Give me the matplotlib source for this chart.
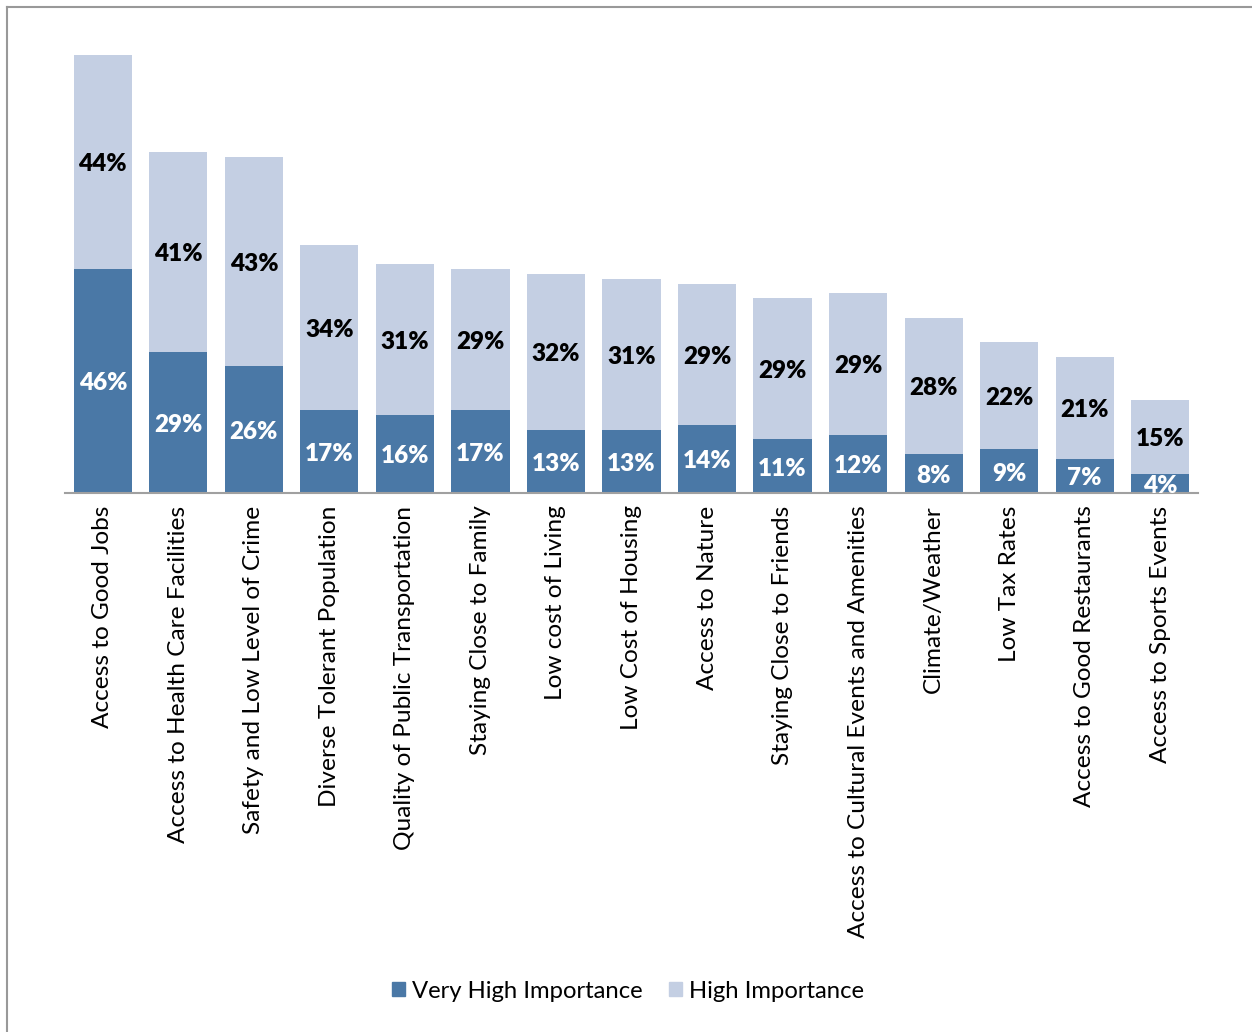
import matplotlib
matplotlib.use("Agg")
import matplotlib.pyplot as plt
from matplotlib.lines import Line2D
from matplotlib.patches import Patch

plt.rcParams['font.family'] = ['Lato', 'DejaVu Sans']

categories = [
    "Access to Good Jobs", "Access to Health Care Facilities",
    "Safety and Low Level of Crime", "Diverse Tolerant Population",
    "Quality of Public Transportation", "Staying Close to Family",
    "Low cost of Living", "Low Cost of Housing", "Access to Nature",
    "Staying Close to Friends", "Access to Cultural Events and Amenities",
    "Climate/Weather", "Low Tax Rates", "Access to Good Restaurants",
    "Access to Sports Events",
]
very_high = [46, 29, 26, 17, 16, 17, 13, 13, 14, 11, 12, 8, 9, 7, 4]
high = [44, 41, 43, 34, 31, 29, 32, 31, 29, 29, 29, 28, 22, 21, 15]

dark = "#4A78A6"
light = "#C4CFE3"

fig = plt.figure(figsize=(12.52, 10.32), dpi=100)
W, H = 1252, 1032
# axes: x 65..1198 px, y 6..493 px (0..100%)
ax = fig.add_axes([65 / W, 1 - 493 / H, (1198 - 65) / W, (493 - 6) / H])

x = range(len(categories))
ax.bar(x, very_high, width=0.77, color=dark, label="Very High Importance")
ax.bar(x, high, width=0.77, bottom=very_high, color=light,
       label="High Importance")

for i, (v, h) in enumerate(zip(very_high, high)):
    ax.text(i, v / 2 - 0.5, f"{v}%", ha="center", va="center", color="white",
            fontsize=17.5, fontweight="heavy")
    ax.text(i, v + h / 2 - 0.5, f"{h}%", ha="center", va="center",
            color="black", fontsize=17.5, fontweight="heavy")

ax.set_xlim(-0.5, len(categories) - 0.5)
ax.set_ylim(0, 100)
ax.set_yticks([])
for s in ["top", "right", "left"]:
    ax.spines[s].set_visible(False)
ax.spines["bottom"].set_color("#A0A0A0")
ax.spines["bottom"].set_linewidth(1.5)
ax.set_xticks(list(x))
ax.set_xticklabels(categories, rotation=90, fontsize=17.6, va="top",
                   ha="center")
ax.tick_params(axis="x", length=0, pad=9)

fig.legend(handles=[Patch(color=dark, label="Very High Importance"),
                    Patch(color=light, label="High Importance")],
           loc="center", bbox_to_anchor=(628 / W, 1 - 991 / H), ncol=2,
           frameon=False, fontsize=17.2, handlelength=0.55, handleheight=0.55,
           handletextpad=0.3, columnspacing=1.1)

# outer frame (left and top edges)
fig.add_artist(Line2D([7 / W, 7 / W], [0, 1 - 7 / H], color="#999999",
                      lw=1.5, transform=fig.transFigure))
fig.add_artist(Line2D([7 / W, 1], [1 - 7 / H, 1 - 7 / H], color="#999999",
                      lw=1.5, transform=fig.transFigure))

fig.savefig("out.png", dpi=100)
